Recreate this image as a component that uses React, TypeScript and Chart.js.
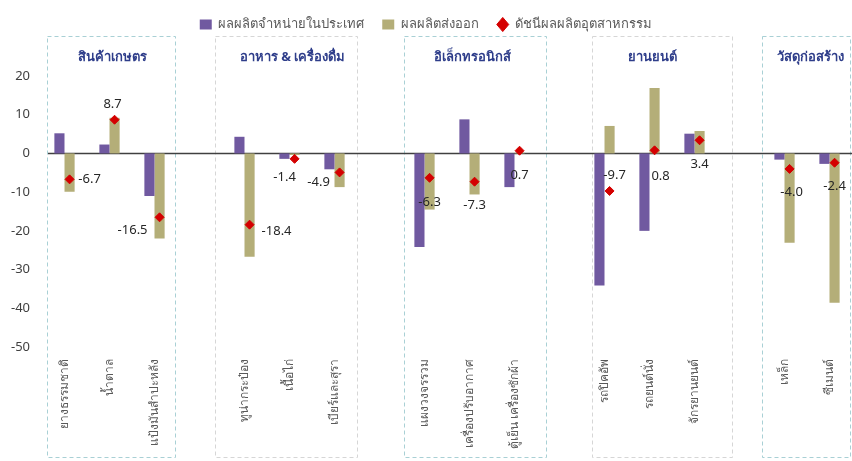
import React, { useEffect, useRef } from "react";
import { Chart, registerables } from "chart.js";

Chart.register(...registerables);

const groupNames = ["สินค้าเกษตร", "อาหาร & เครื่องดื่ม", "อิเล็กทรอนิกส์", "ยานยนต์", "วัสดุก่อสร้าง"];
const groupSizes = [3, 3, 3, 3, 2];
const groupBoxColors = ["#a9d0d5", "#d6d6d6", "#a9d0d5", "#d6d6d6", "#a9d0d5"];
// box extents beyond first/last category centre, in slot units (styling only)
const groupBoxLeftPad = [0.4, 0.65, 0.45, 0.27, 0.5];
const groupBoxRightPad = [0.45, 0.5, 0.7, 0.85, 0.45];

const categories = [
  "ยางธรรมชาติ", "น้ำตาล", "แป้งมันสำปะหลัง",
  "ทูน่ากระป๋อง", "เนื้อไก่", "เบียร์และสุรา",
  "แผงวงจรรวม", "เครื่องปรับอากาศ", "ตู้เย็น เครื่องซักผ้า",
  "รถปิคอัพ", "รถยนต์นั่ง", "จักรยานยนต์",
  "เหล็ก", "ซีเมนต์",
];
const domestic = [5.2, 2.3, -11.0, 4.3, -1.4, -4.1, -24.2, 8.8, -8.7, -34.1, -20.0, 5.1, -1.6, -2.7];
const exportsVals = [-9.9, 9.2, -22.0, -26.7, -0.4, -8.7, -14.5, -10.6, 0.2, 7.1, 16.9, 5.8, -23.1, -38.6];
const indexVals = [-6.7, 8.7, -16.5, -18.4, -1.4, -4.9, -6.3, -7.3, 0.7, -9.7, 0.8, 3.4, -4.0, -2.4];
const yTicks = [20, 10, 0, -10, -20, -30, -40, -50];

// label offsets (dx, dy) from each diamond, in px (styling only)
const labelOffsets: [number, number][] = [
  [20, 0], [-2, -15], [-27, 13],
  [27, 7], [-10, 18], [-21, 10],
  [0, 24], [0, 24], [0, 25],
  [5, -16], [6, 26], [0, 24],
  [2, 23], [0, 24],
];

// Build slot arrays with blank gaps between groups
const labels: string[] = [];
const domSlots: (number | null)[] = [];
const expSlots: (number | null)[] = [];
const idxSlots: (number | null)[] = [];
const slotOfCat: number[] = [];
const groupSlots: [number, number][] = [];
{
  let c = 0;
  groupSizes.forEach((n, g) => {
    const start = labels.length;
    for (let k = 0; k < n; k++) {
      slotOfCat.push(labels.length);
      labels.push(categories[c]);
      domSlots.push(domestic[c]);
      expSlots.push(exportsVals[c]);
      idxSlots.push(indexVals[c]);
      c++;
    }
    groupSlots.push([start, labels.length - 1]);
    if (g < groupSizes.length - 1) {
      labels.push("");
      domSlots.push(null);
      expSlots.push(null);
      idxSlots.push(null);
    }
  });
}

const FONT = '"Noto Sans", "DejaVu Sans", sans-serif';

export default function App() {
  const ref = useRef<HTMLCanvasElement>(null);
  useEffect(() => {
    document.body.style.margin = "0";
    const canvas = ref.current!;

    const legendMargin = {
      id: "legendMargin",
      beforeInit(chart: any) {
        const lg = chart.legend;
        if (!lg) return;
        const orig = lg.fit;
        lg.fit = function () {
          orig.bind(lg)();
          this.height = 76;
        };
      },
    };

    const alignDiamonds = {
      id: "alignDiamonds",
      afterDatasetsUpdate(chart: any) {
        const m1 = chart.getDatasetMeta(1);
        const m2 = chart.getDatasetMeta(2);
        m2.data.forEach((el: any, i: number) => {
          const b = m1.data[i];
          if (b && isFinite(b.x)) el.x = b.x;
        });
      },
    };

    const groupBoxes = {
      id: "groupBoxes",
      beforeDatasetsDraw(chart: any) {
        const ctx = chart.ctx;
        const x = chart.scales.x;
        const y = chart.scales.y;
        const slot = x.getPixelForValue(1) - x.getPixelForValue(0);
        ctx.save();
        groupSlots.forEach(([s, e], g) => {
          const left = x.getPixelForValue(s) - slot * groupBoxLeftPad[g];
          const right = Math.min(x.getPixelForValue(e) + slot * groupBoxRightPad[g], chart.width - 2);
          ctx.strokeStyle = groupBoxColors[g];
          ctx.lineWidth = 1;
          ctx.setLineDash([4, 3]);
          ctx.strokeRect(Math.round(left) + 0.5, 36.5, Math.round(right - left), 421);
          ctx.setLineDash([]);
          ctx.fillStyle = "#2e3d8a";
          ctx.font = `bold 13px ${FONT}`;
          ctx.textAlign = "center";
          ctx.textBaseline = "middle";
          const mid = (x.getPixelForValue(s) + x.getPixelForValue(e)) / 2 + 3;
          ctx.fillText(groupNames[g], mid, 57);
        });
        // zero line
        const y0 = Math.round(y.getPixelForValue(0)) + 0.5;
        ctx.strokeStyle = "#404040";
        ctx.lineWidth = 1.5;
        ctx.beginPath();
        ctx.moveTo(chart.chartArea.left + 6, y0);
        ctx.lineTo(chart.chartArea.right, y0);
        ctx.stroke();
        ctx.restore();
      },
    };

    const pointLabels = {
      id: "pointLabels",
      afterDatasetsDraw(chart: any) {
        const ctx = chart.ctx;
        const m2 = chart.getDatasetMeta(2);
        ctx.save();
        ctx.fillStyle = "#262626";
        ctx.font = `13px ${FONT}`;
        ctx.textAlign = "center";
        ctx.textBaseline = "middle";
        slotOfCat.forEach((s, c) => {
          const el = m2.data[s];
          if (!el) return;
          const [dx, dy] = labelOffsets[c];
          ctx.fillText(indexVals[c].toFixed(1), el.x + dx, el.y + dy);
        });
        ctx.restore();
      },
    };

    const chart = new Chart(canvas, {
      data: {
        labels,
        datasets: [
          {
            type: "bar",
            label: "ผลผลิตจำหน่ายในประเทศ",
            data: domSlots,
            backgroundColor: "#7059a0",
            pointStyle: "rect",
            order: 1,
            categoryPercentage: 0.45,
            barPercentage: 1,
          } as any,
          {
            type: "bar",
            label: "ผลผลิตส่งออก",
            data: expSlots,
            backgroundColor: "#b4ae78",
            pointStyle: "rect",
            order: 1,
            categoryPercentage: 0.45,
            barPercentage: 1,
          } as any,
          {
            type: "line",
            label: "ดัชนีผลผลิตอุตสาหกรรม",
            data: idxSlots,
            showLine: false,
            pointStyle: "rectRot",
            pointRadius: 4.5,
            pointBackgroundColor: "#d40000",
            pointBorderColor: "#d40000",
            backgroundColor: "#d40000",
            borderColor: "#d40000",
            order: 0,
          } as any,
        ],
      },
      options: {
        animation: false,
        responsive: false,
        maintainAspectRatio: false,
        layout: { padding: 0, autoPadding: false },
        plugins: {
          tooltip: { enabled: false },
          legend: {
            position: "top",
            labels: {
              usePointStyle: true,
              pointStyleWidth: 12,
              boxWidth: 10,
              boxHeight: 10,
              padding: 18,
              color: "#595959",
              font: { family: FONT, size: 13 },
              sort: (a: any, b: any) => a.datasetIndex - b.datasetIndex,
            },
          },
        },
        scales: {
          x: {
            offset: true,
            grid: { display: false, drawTicks: false },
            border: { display: false },
            ticks: {
              autoSkip: false,
              minRotation: 90,
              maxRotation: 90,
              padding: 12,
              color: "#595959",
              font: { family: FONT, size: 12 },
            },
            afterFit: (s: any) => {
              s.height = 114;
              s.paddingLeft = 0;
              s.paddingRight = 0;
            },
          },
          y: {
            min: -50,
            max: 20,
            afterBuildTicks: (s: any) => {
              s.ticks = yTicks.map((v) => ({ value: v }));
            },
            grid: { display: false, drawTicks: false },
            border: { display: false },
            ticks: {
              padding: 12,
              color: "#404040",
              font: { family: FONT, size: 13 },
            },
            afterFit: (s: any) => {
              s.width = 42;
            },
          },
        },
      },
      plugins: [legendMargin, alignDiamonds, groupBoxes, pointLabels],
    } as any);
    return () => chart.destroy();
  }, []);
  return <canvas ref={ref} width={852} height={461} style={{ display: "block" }} />;
}
